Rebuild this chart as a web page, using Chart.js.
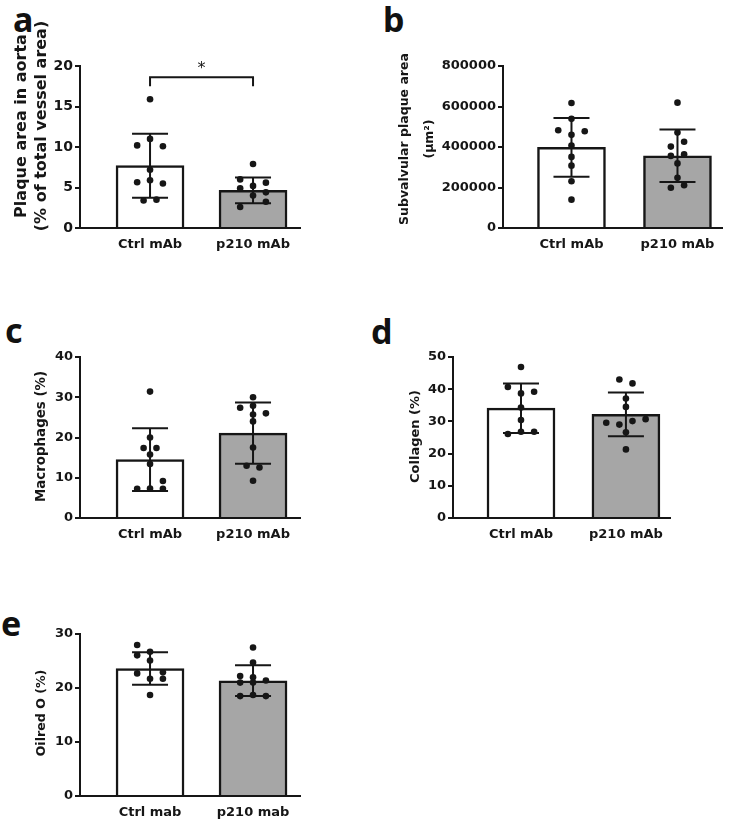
<!DOCTYPE html>
<html>
<head>
<meta charset="utf-8">
<script src="https://cdn.jsdelivr.net/npm/chart.js@4.4.0/dist/chart.umd.min.js"></script>
<style>
  body { margin: 0; background: #fff; width: 747px; height: 825px; position: relative; overflow: hidden; }
  canvas { position: absolute; }
  .letter { position: absolute; font-family: "Noto Sans", sans-serif; font-weight: 700; font-size: 34px; line-height: 34px; color: #111; }
</style>
</head>
<body>
<div class="letter" style="left:13px;top:2px">a</div>
<div class="letter" style="left:383px;top:2px">b</div>
<div class="letter" style="left:5px;top:313px">c</div>
<div class="letter" style="left:371px;top:314px">d</div>
<div class="letter" style="left:1px;top:606px">e</div>

<canvas id="chartA" width="320" height="275" style="left:0;top:0"></canvas>
<canvas id="chartB" width="377" height="275" style="left:370px;top:0"></canvas>
<canvas id="chartC" width="320" height="265" style="left:0;top:290px"></canvas>
<canvas id="chartD" width="377" height="265" style="left:370px;top:290px"></canvas>
<canvas id="chartE" width="320" height="265" style="left:0;top:560px"></canvas>

<script>
// group names
const LABELS_MAB = ['Ctrl mAb', 'p210 mAb'];
const LABELS_MAB_E = ['Ctrl mab', 'p210 mab'];

// a - plaque area in aorta (% of total vessel area)
const aortaMean = [7.7, 4.65];
const aortaSd = [3.95, 1.6];
const aortaCtrl = [15.9, 11.0, 10.2, 10.1, 7.2, 5.9, 5.65, 5.5, 3.5, 3.4];
const aortaCtrlCol = [0, 0, -1, 1, 0, 0, -1, 1, 0.5, -0.5];
const aortaP210 = [7.9, 6.0, 5.6, 5.2, 4.9, 4.4, 4.0, 3.25, 2.6];
const aortaP210Col = [0, -1, 1, 0, -1, 1, 0, 1, -1];
const aortaTicks = [0, 5, 10, 15, 20];

// b - subvalvular plaque area (um2)
const subvMean = [398000, 357000];
const subvSd = [145000, 130000];
const subvCtrl = [617000, 539000, 483000, 478000, 460000, 407000, 351000, 308000, 231000, 140000];
const subvCtrlCol = [0, 0, -1, 1, 0, 0, 0, 0, 0, 0];
const subvP210 = [619000, 471000, 426000, 402000, 364000, 356000, 319000, 248000, 211000, 199000];
const subvP210Col = [0, 0, 0.5, -0.5, 0.5, -0.5, 0, 0, 0.5, -0.5];
const subvTicks = [0, 200000, 400000, 600000, 800000];

// c - macrophages (%)
const macroMean = [14.5, 21.1];
const macroSd = [7.8, 7.6];
const macroCtrl = [31.4, 20.0, 17.4, 17.4, 15.75, 13.4, 9.2, 7.3, 7.25, 7.25];
const macroCtrlCol = [0, 0, -0.5, 0.5, 0, 0, 1, 0, -1, 1];
const macroP210 = [30.0, 27.9, 27.4, 26.0, 25.7, 24.0, 17.5, 13.0, 12.55, 9.25];
const macroP210Col = [0, 0, -1, 1, 0, 0, 0, -0.5, 0.5, 0];
const macroTicks = [0, 10, 20, 30, 40];

// d - collagen (%)
const collMean = [34.1, 32.2];
const collSd = [7.7, 6.8];
const collCtrl = [46.9, 40.7, 39.2, 38.7, 34.3, 30.4, 26.8, 26.8, 26.1];
const collCtrlCol = [0, -1, 1, 0, 0, 0, 0, 1, -1];
const collP210 = [43.0, 41.8, 37.1, 34.5, 30.7, 30.1, 29.6, 29.0, 26.6, 21.3];
const collP210Col = [-0.5, 0.5, 0, 0, 1.5, 0.5, -1.5, -0.5, 0, 0];
const collTicks = [0, 10, 20, 30, 40, 50];

// e - oil red O (%)
const oilMean = [23.6, 21.35];
const oilSd = [3.0, 2.85];
const oilCtrl = [27.96, 26.7, 26.05, 25.1, 22.9, 22.7, 21.7, 21.7, 18.7];
const oilCtrlCol = [-1, 0, -1, 0, 1, -1, 0, 1, 0];
const oilP210 = [27.5, 24.7, 22.2, 22.0, 21.4, 21.0, 21.0, 18.7, 18.5, 18.5];
const oilP210Col = [0, 0, -1, 0, 1, -1, 0, 0, -1, 1];
const oilTicks = [0, 10, 20, 30];

const JIT = 0.125;
const INK = '#161616';
const FONT = '"DejaVu Sans", sans-serif';

const errorBars = {
  id: 'errorBars',
  afterDatasetDraw(chart, args, opts) {
    if (args.index !== 0) return;
    const { ctx, scales: { x, y } } = chart;
    ctx.save();
    ctx.strokeStyle = INK;
    ctx.lineWidth = 2;
    opts.mean.forEach((m, i) => {
      const cx = x.getPixelForValue(i + 1);
      const hi = y.getPixelForValue(m + opts.sd[i]);
      const lo = y.getPixelForValue(m - opts.sd[i]);
      ctx.beginPath();
      ctx.moveTo(cx, hi); ctx.lineTo(cx, lo);
      ctx.moveTo(cx - 18, hi); ctx.lineTo(cx + 18, hi);
      ctx.moveTo(cx - 18, lo); ctx.lineTo(cx + 18, lo);
      ctx.stroke();
    });
    ctx.restore();
  }
};

const yTitle = {
  id: 'yTitle',
  afterDraw(chart, args, opts) {
    const { ctx, chartArea } = chart;
    const cy = (chartArea.top + chartArea.bottom) / 2 + opts.dy;
    ctx.save();
    ctx.fillStyle = INK;
    ctx.font = `bold ${opts.size}px ${FONT}`;
    ctx.textAlign = 'center';
    ctx.textBaseline = 'middle';
    opts.lines.forEach((line, i) => {
      ctx.save();
      ctx.translate(opts.x[i], cy);
      ctx.rotate(-Math.PI / 2);
      ctx.fillText(line, 0, 0);
      ctx.restore();
    });
    ctx.restore();
  }
};

const bracket = {
  id: 'bracket',
  afterDraw(chart, args, opts) {
    if (!opts.show) return;
    const { ctx, scales: { x, y } } = chart;
    const x1 = x.getPixelForValue(1), x2 = x.getPixelForValue(2);
    const yb = y.getPixelForValue(opts.level);
    const ye = y.getPixelForValue(opts.level - opts.drop);
    ctx.save();
    ctx.strokeStyle = INK;
    ctx.lineWidth = 2;
    ctx.beginPath();
    ctx.moveTo(x1, ye); ctx.lineTo(x1, yb); ctx.lineTo(x2, yb); ctx.lineTo(x2, ye);
    ctx.stroke();
    ctx.fillStyle = INK;
    ctx.font = `16px ${FONT}`;
    ctx.textAlign = 'center';
    ctx.textBaseline = 'middle';
    ctx.fillText(opts.text, (x1 + x2) / 2, y.getPixelForValue(opts.level) - 8);
    ctx.restore();
  }
};

function makePanel(id, p) {
  const pts = [];
  p.ctrl.forEach((v, i) => pts.push({ x: 1 + p.ctrlCol[i] * JIT, y: v }));
  p.trt.forEach((v, i) => pts.push({ x: 2 + p.trtCol[i] * JIT, y: v }));

  new Chart(document.getElementById(id), {
    type: 'bar',
    data: {
      datasets: [
        {
          type: 'bar',
          data: p.mean.map((m, i) => ({ x: i + 1, y: m })),
          backgroundColor: ['#ffffff', '#a6a6a6'],
          borderColor: INK,
          borderWidth: 2.5,
          barThickness: 68,
          order: 2
        },
        {
          type: 'scatter',
          data: pts,
          pointRadius: 3.3,
          pointBackgroundColor: INK,
          pointBorderWidth: 0,
          order: 1
        }
      ]
    },
    options: {
      responsive: false,
      animation: false,
      layout: { padding: { top: p.padTop, right: p.padRight, left: 0, bottom: 0 } },
      plugins: {
        legend: { display: false },
        tooltip: { enabled: false },
        errorBars: { mean: p.mean, sd: p.sd },
        yTitle: p.title,
        bracket: p.bracket || { show: false }
      },
      scales: {
        x: {
          type: 'linear',
          offset: false,
          bounds: 'data',
          min: p.xmin,
          max: p.xmax,
          afterBuildTicks: s => { s.ticks = [{ value: 1 }, { value: 2 }]; },
          afterFit: s => { s.height = p.xHeight; },
          ticks: {
            callback: v => p.labels[v - 1],
            font: { family: FONT, size: 13, weight: 'bold' },
            color: INK,
            padding: 9,
            maxRotation: 0,
            autoSkip: false
          },
          grid: { display: false, drawTicks: false, offset: false },
          border: { color: INK, width: 2 }
        },
        y: {
          min: 0,
          max: p.ticks[p.ticks.length - 1],
          afterBuildTicks: s => { s.ticks = p.ticks.map(v => ({ value: v })); },
          afterFit: s => { s.width = p.yWidth; },
          ticks: {
            callback: v => String(v),
            font: { family: FONT, size: p.tickSize, weight: 'bold' },
            color: INK,
            padding: 2
          },
          grid: { drawOnChartArea: false, tickLength: 5, color: INK, lineWidth: 2 },
          border: { color: INK, width: 2 }
        }
      }
    },
    plugins: [errorBars, yTitle, bracket]
  });
}

makePanel('chartA', {
  mean: aortaMean, sd: aortaSd, ctrl: aortaCtrl, ctrlCol: aortaCtrlCol, trt: aortaP210, trtCol: aortaP210Col,
  ticks: aortaTicks, labels: LABELS_MAB, tickSize: 14,
  xmin: 0.32, xmax: 2.456, padTop: 66, padRight: 20, yWidth: 80, xHeight: 47,
  title: { lines: ['Plaque area in aorta', '(% of total vessel area)'], x: [22, 42], dy: -21, size: 16 },
  bracket: { show: true, level: 18.6, drop: 1.1, text: '*' }
});

makePanel('chartB', {
  mean: subvMean, sd: subvSd, ctrl: subvCtrl, ctrlCol: subvCtrlCol, trt: subvP210, trtCol: subvP210Col,
  ticks: subvTicks, labels: LABELS_MAB, tickSize: 13,
  xmin: 0.354, xmax: 2.42, padTop: 66, padRight: 25, yWidth: 133, xHeight: 47,
  title: { lines: ['Subvalvular plaque area', '(µm²)'], x: [35, 60], dy: -8, size: 12.5 }
});

makePanel('chartC', {
  mean: macroMean, sd: macroSd, ctrl: macroCtrl, ctrlCol: macroCtrlCol, trt: macroP210, trtCol: macroP210Col,
  ticks: macroTicks, labels: LABELS_MAB, tickSize: 13,
  xmin: 0.32, xmax: 2.456, padTop: 67, padRight: 20, yWidth: 80, xHeight: 37,
  title: { lines: ['Macrophages (%)'], x: [42], dy: -1, size: 13.4 }
});

makePanel('chartD', {
  mean: collMean, sd: collSd, ctrl: collCtrl, ctrlCol: collCtrlCol, trt: collP210, trtCol: collP210Col,
  ticks: collTicks, labels: LABELS_MAB, tickSize: 13,
  xmin: 0.352, xmax: 2.42, padTop: 67, padRight: 77, yWidth: 83, xHeight: 37,
  title: { lines: ['Collagen (%)'], x: [46], dy: -1, size: 13 }
});

makePanel('chartE', {
  mean: oilMean, sd: oilSd, ctrl: oilCtrl, ctrlCol: oilCtrlCol, trt: oilP210, trtCol: oilP210Col,
  ticks: oilTicks, labels: LABELS_MAB_E, tickSize: 13,
  xmin: 0.32, xmax: 2.456, padTop: 74, padRight: 20, yWidth: 80, xHeight: 29,
  title: { lines: ['Oilred O (%)'], x: [42], dy: -2, size: 12.6 }
});
</script>
</body>
</html>
